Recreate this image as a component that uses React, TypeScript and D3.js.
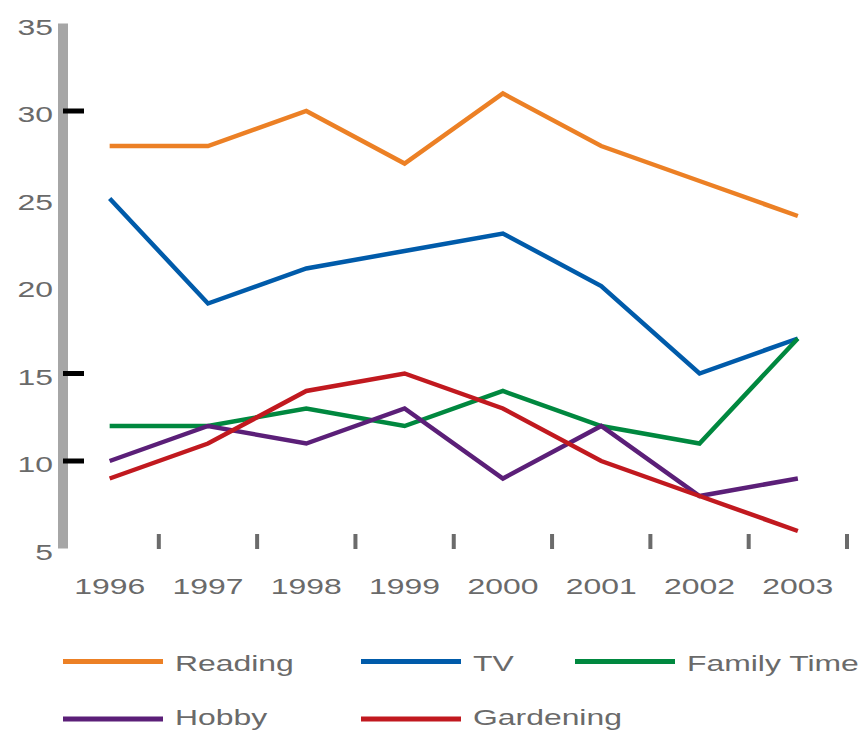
import React from "react";
import * as d3 from "d3";

const years = ["1996", "1997", "1998", "1999", "2000", "2001", "2002", "2003"];
const reading = [28, 28, 30, 27, 31, 28, 26, 24];
const tv = [25, 19, 21, 22, 23, 20, 15, 17];
const familyTime = [12, 12, 13, 12, 14, 12, 11, 17];
const hobby = [10, 12, 11, 13, 9, 12, 8, 9];
const gardening = [9, 11, 14, 15, 13, 10, 8, 6];
const yTicks = [5, 10, 15, 20, 25, 30, 35];
const yTickMarks = [30, 15, 10];

const seriesNames = ["Reading", "TV", "Family Time", "Hobby", "Gardening"];
const seriesValues = [reading, tv, familyTime, hobby, gardening];
const seriesColors = ["#EC8025", "#005BAA", "#00883F", "#5B1F78", "#C1191F"];

const W = 864;
const H = 731;
const SX = 1.45;
const FONT = "'Liberation Sans', Arial, sans-serif";

export default function App() {
  const x = d3.scaleBand<string>().domain(years).range([60.5, 847]);
  const y = d3.scaleLinear().domain([5, 35]).range([548.5, 23.5]);
  const bw = x.bandwidth();
  const cx = (yr: string) => (x(yr) as number) + bw / 2;

  const line = d3
    .line<number>()
    .x((_, i) => cx(years[i]))
    .y((v) => y(v));

  const legendPos = [
    { lx: 63, ly: 661.5, ty: 670.5 },
    { lx: 361, ly: 661.5, ty: 670.5 },
    { lx: 575, ly: 661.5, ty: 670.5 },
    { lx: 63, ly: 719, ty: 725 },
    { lx: 361, ly: 719, ty: 725 },
  ];

  return (
    <svg
      width={W}
      height={H}
      style={{ position: "absolute", left: 0, top: 0, background: "#fff" }}
      fontFamily={FONT}
    >
      {/* y axis bar */}
      <rect x={58} y={y(35)} width={10} height={y(5) - y(35)} fill="#A6A6A6" />
      {yTickMarks.map((t) => (
        <rect key={"tm" + t} x={63} y={y(t) - 2.5} width={21} height={5} fill="#000" />
      ))}
      {yTicks.map((t) => (
        <text
          key={"yl" + t}
          transform={`translate(53,${y(t) + 11}) scale(${SX},1)`}
          textAnchor="end"
          fontSize={22}
          fill="#6a6a6a"
        >
          {t}
        </text>
      ))}

      {/* x ticks at band boundaries */}
      {years.map((yr) => (
        <rect
          key={"xt" + yr}
          x={(x(yr) as number) + bw - 2}
          y={534}
          width={4}
          height={15}
          fill="#6b6b6b"
        />
      ))}
      {years.map((yr) => (
        <text
          key={"xl" + yr}
          transform={`translate(${cx(yr)},${594}) scale(${SX},1)`}
          textAnchor="middle"
          fontSize={22}
          fill="#6a6a6a"
        >
          {yr}
        </text>
      ))}

      {/* series lines */}
      {seriesValues.map((vals, i) => (
        <path
          key={"s" + i}
          d={line(vals) as string}
          fill="none"
          stroke={seriesColors[i]}
          strokeWidth={4.5}
          strokeLinejoin="miter"
        />
      ))}

      {/* legend */}
      {seriesNames.map((name, i) => {
        const p = legendPos[i];
        return (
          <g key={"lg" + name}>
            <rect x={p.lx} y={p.ly - 2.5} width={100} height={5} fill={seriesColors[i]} />
            <text
              transform={`translate(${p.lx + 112},${p.ty}) scale(${SX},1)`}
              fontSize={22}
              fill="#6a6a6a"
            >
              {name}
            </text>
          </g>
        );
      })}
    </svg>
  );
}
